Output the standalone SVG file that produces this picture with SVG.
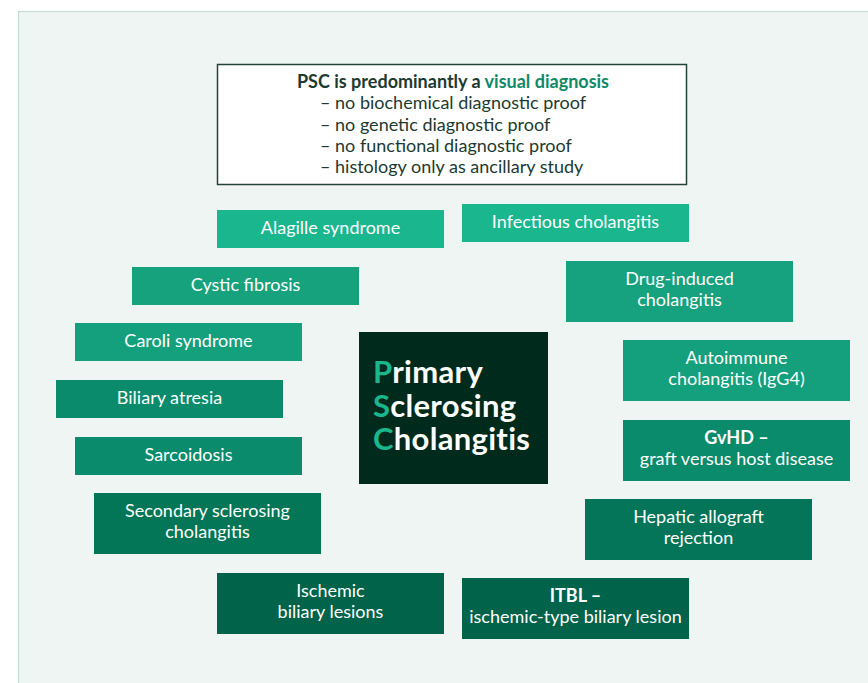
<svg xmlns="http://www.w3.org/2000/svg" width="868" height="683" viewBox="0 0 868 683">
<style>
  .t{font-family:Lato,"Open Sans","Liberation Sans",sans-serif;font-size:18px;fill:#ffffff;text-anchor:middle}
  .b{font-weight:bold}
  .d{font-family:Lato,"Open Sans","Liberation Sans",sans-serif;font-size:18px;fill:#1d3a31}
  .psc{font-family:Lato,"Open Sans","Liberation Sans",sans-serif;font-size:31px;font-weight:bold;fill:#ffffff;letter-spacing:0.3px}
  .hl{fill:#1ab68e}
</style>
<rect x="0" y="0" width="868" height="683" fill="#ffffff"/>
<rect x="18.5" y="11.5" width="860" height="690" fill="#eff5f3" stroke="#c3dcd4" stroke-width="1.2"/>

<g id="info">
  <rect x="217.5" y="64.5" width="469" height="120" fill="#ffffff" stroke="#24423a" stroke-width="1.5"/>
  <text class="d b" x="453" y="88" text-anchor="middle">PSC is predominantly a <tspan fill="#0f8a67">visual diagnosis</tspan></text>
  <text class="d" x="320" y="109">– no biochemical diagnostic proof</text>
  <text class="d" x="320" y="130.5">– no genetic diagnostic proof</text>
  <text class="d" x="320" y="152">– no functional diagnostic proof</text>
  <text class="d" x="320" y="173">– histology only as ancillary study</text>
</g>

<g id="psc">
  <rect x="359" y="332" width="189" height="152" fill="#002a1b"/>
  <text class="psc" x="373" y="383"><tspan class="hl">P</tspan>rimary</text>
  <text class="psc" x="373" y="417"><tspan class="hl">S</tspan>clerosing</text>
  <text class="psc" x="373" y="450"><tspan class="hl">C</tspan>holangitis</text>
</g>

<g id="alagille">
  <rect x="217" y="210" width="227" height="38" fill="#1ab68e"/>
  <text class="t" x="330.5" y="234">Alagille syndrome</text>
</g>
<g id="infectious">
  <rect x="462" y="204" width="227" height="38" fill="#1ab68e"/>
  <text class="t" x="575.5" y="228">Infectious cholangitis</text>
</g>
<g id="cystic">
  <rect x="132" y="267" width="227" height="38" fill="#17a27e"/>
  <text class="t" x="245.5" y="291">Cystic fibrosis</text>
</g>
<g id="drug">
  <rect x="566" y="261" width="227" height="61" fill="#16a27e"/>
  <text class="t" x="679.5" y="285">Drug-induced</text>
  <text class="t" x="679.5" y="306">cholangitis</text>
</g>
<g id="caroli">
  <rect x="75" y="323" width="227" height="38" fill="#14a07c"/>
  <text class="t" x="188.5" y="347">Caroli syndrome</text>
</g>
<g id="autoimmune">
  <rect x="623" y="340" width="227" height="61" fill="#14a07c"/>
  <text class="t" x="736.5" y="364">Autoimmune</text>
  <text class="t" x="736.5" y="385">cholangitis (IgG4)</text>
</g>
<g id="biliary">
  <rect x="56" y="380" width="227" height="38" fill="#0a8b6c"/>
  <text class="t" x="169.5" y="404">Biliary atresia</text>
</g>
<g id="sarcoidosis">
  <rect x="75" y="437" width="227" height="38" fill="#0a8b6c"/>
  <text class="t" x="188.5" y="461">Sarcoidosis</text>
</g>
<g id="gvhd">
  <rect x="623" y="420" width="227" height="61" fill="#0a8b6c"/>
  <text class="t b" x="736.5" y="444">GvHD –</text>
  <text class="t" x="736.5" y="465">graft versus host disease</text>
</g>
<g id="secondary">
  <rect x="94" y="493" width="227" height="61" fill="#027657"/>
  <text class="t" x="207.5" y="517">Secondary sclerosing</text>
  <text class="t" x="207.5" y="538">cholangitis</text>
</g>
<g id="hepatic">
  <rect x="585" y="499" width="227" height="61" fill="#047558"/>
  <text class="t" x="698.5" y="523">Hepatic allograft</text>
  <text class="t" x="698.5" y="544">rejection</text>
</g>
<g id="ischemic">
  <rect x="217" y="573" width="227" height="61" fill="#00634a"/>
  <text class="t" x="330.5" y="597">Ischemic</text>
  <text class="t" x="330.5" y="618">biliary lesions</text>
</g>
<g id="itbl">
  <rect x="462" y="578" width="227" height="61" fill="#00634a"/>
  <text class="t b" x="575.5" y="602">ITBL –</text>
  <text class="t" x="575.5" y="623">ischemic-type biliary lesion</text>
</g>
<g id="connectors"/>
</svg>
